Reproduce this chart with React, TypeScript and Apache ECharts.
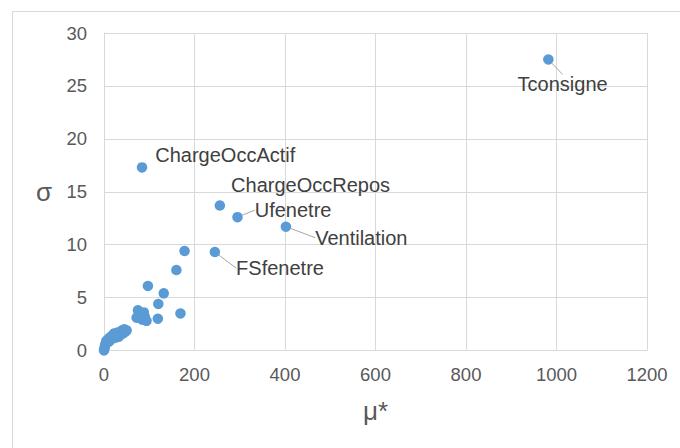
import React, { useEffect, useRef } from "react";
import * as echarts from "echarts";

// Labelled factors
const labelNames = ["Tconsigne", "ChargeOccActif", "ChargeOccRepos", "Ufenetre", "Ventilation", "FSfenetre"];
const labelMu = [982, 84, 256, 295, 402, 245];
const labelSigma = [27.5, 17.3, 13.7, 12.6, 11.7, 9.3];

// Unlabelled factors
const otherMu = [
  0, 1, 2, 3, 5, 8, 10, 12, 15, 18, 20, 22, 25, 28, 30, 33, 36, 40, 42, 45, 48, 50,
  72, 75, 80, 83, 88, 90, 94, 85,
  119, 120, 132, 97, 160, 178, 169,
];
const otherSigma = [
  0, 0.2, 0.4, 0.6, 0.9, 1.0, 0.8, 1.2, 1.0, 1.4, 1.3, 1.6, 1.2, 1.5, 1.7, 1.3, 1.5, 1.9, 1.6, 2.0, 1.8, 1.9,
  3.1, 3.8, 3.4, 3.0, 3.6, 3.2, 2.8, 2.9,
  3.0, 4.4, 5.4, 6.1, 7.6, 9.4, 3.5,
];

const xTicks = [0, 200, 400, 600, 800, 1000, 1200];
const yTicks = [0, 5, 10, 15, 20, 25, 30];

// label offsets relative to a 'right' placed label [dx, dy, leader]
const labelOffsets: [number, number, boolean][] = [
  [-41, 25, true],
  [3, -12, false],
  [1, -21, false],
  [7, -7, true],
  [19, 11, true],
  [11, 16, true],
];

const FONT = "'Liberation Sans', Arial, sans-serif";

export default function App() {
  const ref = useRef<HTMLDivElement>(null);
  useEffect(() => {
    if (!ref.current) return;
    const chart = echarts.init(ref.current, undefined, { renderer: "svg" });
    const data: any[] = [];
    otherMu.forEach((m, i) => data.push({ value: [m, otherSigma[i]] }));
    const start = data.length;
    labelNames.forEach((n, i) => {
      data.push({
        value: [labelMu[i], labelSigma[i]],
        name: n,
        label: { show: true, formatter: n },
        labelLine: { show: labelOffsets[i][2], lineStyle: { color: "#A6A6A6", width: 1 } },
      });
    });
    chart.setOption({
      animation: false,
      graphic: [
        {
          type: "rect",
          shape: { x: 12.5, y: 11.5, width: 720, height: 500 },
          style: { fill: "none", stroke: "#D9D9D9", lineWidth: 1 },
          silent: true,
        },
      ],
      grid: { left: 104, right: 33, top: 33, bottom: 97.5 },
      xAxis: {
        type: "value",
        min: xTicks[0],
        max: xTicks[xTicks.length - 1],
        interval: xTicks[1] - xTicks[0],
        name: "μ*",
        nameLocation: "middle",
        nameGap: 47,
        nameTextStyle: { fontSize: 26, color: "#595959", fontFamily: FONT },
        axisLine: { show: true, lineStyle: { color: "#D9D9D9" } },
        axisTick: { show: false },
        splitLine: { show: true, lineStyle: { color: "#D9D9D9" } },
        axisLabel: {
          fontSize: 18.5,
          color: "#595959",
          fontFamily: FONT,
          margin: 14,
          formatter: (v: number) => String(v),
        },
      },
      yAxis: {
        type: "value",
        min: yTicks[0],
        max: yTicks[yTicks.length - 1],
        interval: yTicks[1] - yTicks[0],
        name: "σ",
        nameLocation: "middle",
        nameRotate: 0,
        nameGap: 52,
        nameTextStyle: { fontSize: 26, color: "#595959", fontFamily: FONT },
        axisLine: { show: true, lineStyle: { color: "#D9D9D9" } },
        axisTick: { show: false },
        splitLine: { show: true, lineStyle: { color: "#D9D9D9" } },
        axisLabel: {
          fontSize: 18.5,
          color: "#595959",
          fontFamily: FONT,
          margin: 17,
          formatter: (v: number) => String(v),
        },
      },
      series: [
        {
          type: "scatter",
          symbolSize: 10.5,
          itemStyle: { color: "#5B9BD5", opacity: 1 },
          label: {
            show: false,
            position: "right",
            distance: 5,
            fontSize: 20,
            color: "#404040",
            fontFamily: FONT,
          },
          labelLayout: (params: any) => {
            const k = params.dataIndex - start;
            if (k < 0) return {};
            return { dx: labelOffsets[k][0], dy: labelOffsets[k][1] };
          },
          data,
        },
      ],
    });
    return () => chart.dispose();
  }, []);
  return (
    <div
      ref={ref}
      style={{ position: "fixed", left: 0, top: 0, width: 680, height: 448, background: "#fff" }}
    />
  );
}
